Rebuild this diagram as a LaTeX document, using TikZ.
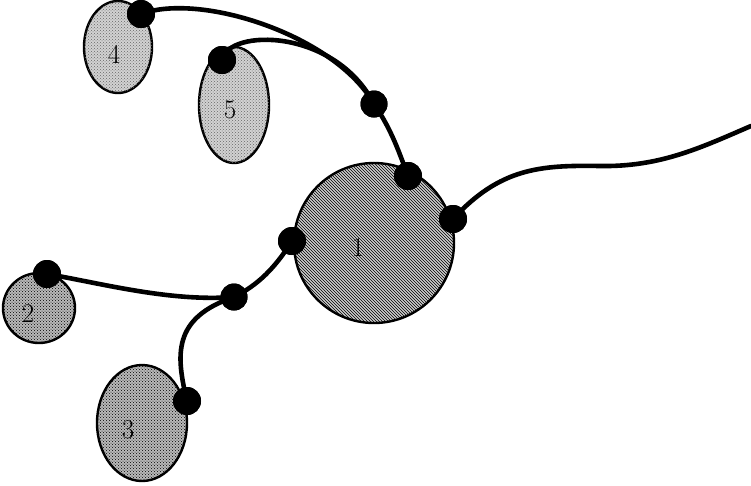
\documentclass[tikz,border=0pt]{standalone}
\usetikzlibrary{patterns,shapes.geometric}
\begin{document}
\begin{tikzpicture}[x=1pt,y=-1pt,
  blob/.style={draw=black,line width=2.4pt,ellipse,inner sep=0pt},
  light/.style={blob,fill=gray!35,postaction={pattern=crosshatch dots,pattern color=black!60}},
  dark/.style={blob,fill=gray!55,postaction={pattern=crosshatch dots,pattern color=black}},
  hatch/.style={blob,fill=gray!40,postaction={pattern=north west lines,pattern color=black}},
  lbl/.style={font=\fontsize{27}{29}\selectfont},
  dot/.style={circle,fill=black,inner sep=0pt,minimum size=28pt},
  jdot/.style={circle,fill=black,inner sep=0pt,minimum size=27pt},
  wire/.style={line width=4.6pt,line cap=round}]
\useasboundingbox (0,0) rectangle (751,485);
% ellipses
\node[light,minimum width=68pt,minimum height=92pt] (e4) at (118,47) {};
\node[lbl] (l4) at (114,54) {4};
\node[light,minimum width=70pt,minimum height=116pt] (e5) at (234,105) {};
\node[lbl] (l5) at (230,110) {5};
\node[hatch,minimum width=160pt,minimum height=160pt] (e1) at (374,243) {};
\node[lbl] (l1) at (358,248) {1};
\node[dark,minimum width=72pt,minimum height=70pt] (e2) at (39,308) {};
\node[lbl] (l2) at (28,314) {2};
\node[dark,minimum width=90pt,minimum height=116pt] (e3) at (142,423) {};
\node[lbl] (l3) at (128,430) {3};
% dots
\node[dot] (d4) at (141,14) {};
\node[dot] (d5) at (222,60) {};
\node[jdot] (j1) at (374,104) {};
\node[dot] (d1a) at (408,176) {};
\node[dot] (d1b) at (453,219) {};
\node[dot] (d1c) at (292,241) {};
\node[jdot] (j2) at (234,297) {};
\node[dot] (d2) at (47,274) {};
\node[dot] (d3) at (187,401) {};
\coordinate (end) at (751,126);
% wires
\draw[wire] (d4.center) .. controls (200,-8) and (335,35) .. (j1.center);
\draw[wire] (d5.center) .. controls (228,28) and (335,28) .. (j1.center);
\draw[wire] (j1.center) .. controls (392,130) and (400,155) .. (d1a.center);
\draw[wire] (d1b.center) .. controls (500,168) and (540,165) .. (600,166) .. controls (660,167) and (700,148) .. (end);
\draw[wire] (d1c.center) .. controls (275,268) and (258,285) .. (j2.center);
\draw[wire] (j2.center) .. controls (170,302) and (100,283) .. (d2.center);
\draw[wire] (j2.center) .. controls (172,318) and (176,355) .. (d3.center);
% dots on top
\foreach \n in {d4,d5,d1a,d1b,d1c,d2,d3}{\fill (\n.center) circle[radius=14pt];}
\foreach \n in {j1,j2}{\fill (\n.center) circle[radius=13.5pt];}
\end{tikzpicture}
\end{document}
